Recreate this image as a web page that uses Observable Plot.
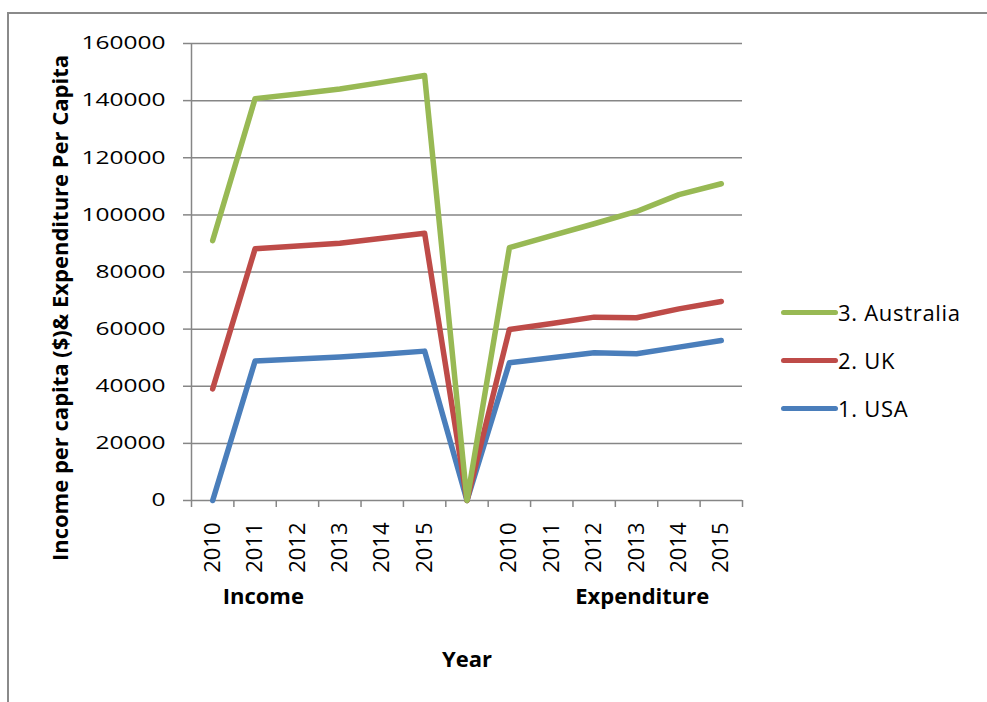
<!DOCTYPE html>
<html>
<head>
<meta charset="utf-8">
<script src="https://cdn.jsdelivr.net/npm/d3@7"></script>
<script src="https://cdn.jsdelivr.net/npm/@observablehq/plot@0.6"></script>
<style>
  html, body { margin: 0; padding: 0; background: #fff; }
  #wrap { position: relative; width: 987px; height: 702px; overflow: hidden; font-family: "Open Sans", sans-serif; }
  #frame { position: absolute; left: 7px; top: 12px; right: -2px; bottom: -2px; border-top: 2px solid #8a8a8a; border-left: 2px solid #8a8a8a; }
  #chart { position: absolute; left: 0; top: 0; }
  .leg { position: absolute; left: 781px; height: 30px; display: flex; align-items: center; }
  .leg .sw { width: 57px; height: 5px; border-radius: 3px; }
  .leg .lab { font-family: "Open Sans", sans-serif; font-size: 22px; letter-spacing: 0.7px; color: #000; margin-left: 0px; line-height: 30px; }
</style>
</head>
<body>
<div id="wrap">
  <div id="frame"></div>
  <div id="chart"></div>
  <div id="legend"></div>
</div>
<script>
// ---- data ----
const categories = ["2010","2011","2012","2013","2014","2015","","2010","2011","2012","2013","2014","2015"];
const groupLabels = ["Income", "Expenditure"];
const seriesNames = ["1. USA", "2. UK", "3. Australia"];
const seriesColors = ["#4a7ebb", "#be4b48", "#98b954"];
const usa       = [0,     48800,  49500,  50200,  51200,  52300,  0, 48200, 50000, 51700, 51400, 53700, 56000];
const uk        = [39100, 88100,  89100,  90100,  91800,  93600,  0, 59900, 62000, 64200, 64000, 67100, 69700];
const australia = [91000, 140700, 142300, 144100, 146400, 148800, 0, 88500, 92700, 96900, 101200, 107100, 110900];
const yTicks = [0, 20000, 40000, 60000, 80000, 100000, 120000, 140000, 160000];
const yLabel = "Income per capita ($)& Expenditure Per Capita";
const xLabel = "Year";

// ---- table for Plot ----
const seriesValues = [usa, uk, australia];
const rows = [];
seriesNames.forEach((name, s) => {
  seriesValues[s].forEach((v, i) => rows.push({ i, value: v, series: name }));
});

const gray = "#868686";
const chart = Plot.plot({
  width: 987,
  height: 702,
  marginLeft: 191,
  marginRight: 245,
  marginTop: 43,
  marginBottom: 202,
  style: { fontFamily: "Open Sans, sans-serif", background: "transparent", overflow: "visible" },
  x: { type: "linear", domain: [-0.5, categories.length - 0.5] },
  y: { domain: [0, 160000] },
  color: { domain: seriesNames, range: seriesColors },
  marks: [
    Plot.gridY(yTicks, { stroke: gray, strokeOpacity: 1, strokeWidth: 1.5 }),
    Plot.ruleX([-0.5], { stroke: gray, strokeWidth: 1.5 }),
    Plot.axisY({ ticks: yTicks, tickSize: 8, tickPadding: 18, tickFormat: d => String(d), fontSize: 18, label: null, stroke: gray, strokeWidth: 1.5, fill: "#000" }),
    Plot.axisX({ ticks: d3.range(categories.length + 1).map(i => i - 0.5), tickSize: 7, tickFormat: () => "", label: null, stroke: gray, strokeWidth: 1.5 }),
    Plot.axisX({ ticks: d3.range(categories.length), tickSize: 0, tickPadding: 22, tickRotate: -90, tickFormat: i => categories[i], fontSize: 22, label: null, fill: "#000" }),
    Plot.line(rows, { x: "i", y: "value", z: "series", stroke: "series", strokeWidth: 5.5, strokeLinecap: "round", strokeLinejoin: "round", curve: "linear" }),
    Plot.text([groupLabels[0]], { x: [0], frameAnchor: "bottom", dy: 103, dx: 10, textAnchor: "start", fontSize: 22, fontWeight: "bold", fill: "#000" }),
    Plot.text([groupLabels[1]], { x: [categories.length - 1], frameAnchor: "bottom", dy: 103, dx: -12, textAnchor: "end", fontSize: 22, fontWeight: "bold", fill: "#000" }),
    Plot.text([xLabel], { frameAnchor: "bottom", dy: 166, fontSize: 22, fontWeight: "bold", fill: "#000" }),
    Plot.text([yLabel], { frameAnchor: "left", dx: -131, dy: 36, rotate: -90, textAnchor: "middle", fontSize: 22, fontWeight: "bold", fill: "#000" })
  ]
});
document.getElementById("chart").appendChild(chart);

// widen y tick label glyphs (wide digits, as in the original)
d3.select(chart).selectAll('g[aria-label="y-axis tick label"] text').each(function() {
  const w = this.getComputedTextLength();
  if (w > 0) {
    this.setAttribute("textLength", (w * 1.36).toFixed(1));
    this.setAttribute("lengthAdjust", "spacingAndGlyphs");
  }
});

// legend (top to bottom: Australia, UK, USA)
const legend = d3.select("#legend");
const legendCenters = [312, 360, 408];
[2, 1, 0].forEach((s, k) => {
  const item = legend.append("div").attr("class", "leg").style("top", (legendCenters[k] - 15) + "px");
  item.append("div").attr("class", "sw").style("background", seriesColors[s]);
  item.append("div").attr("class", "lab").text(seriesNames[s]);
});
</script>
</body>
</html>
